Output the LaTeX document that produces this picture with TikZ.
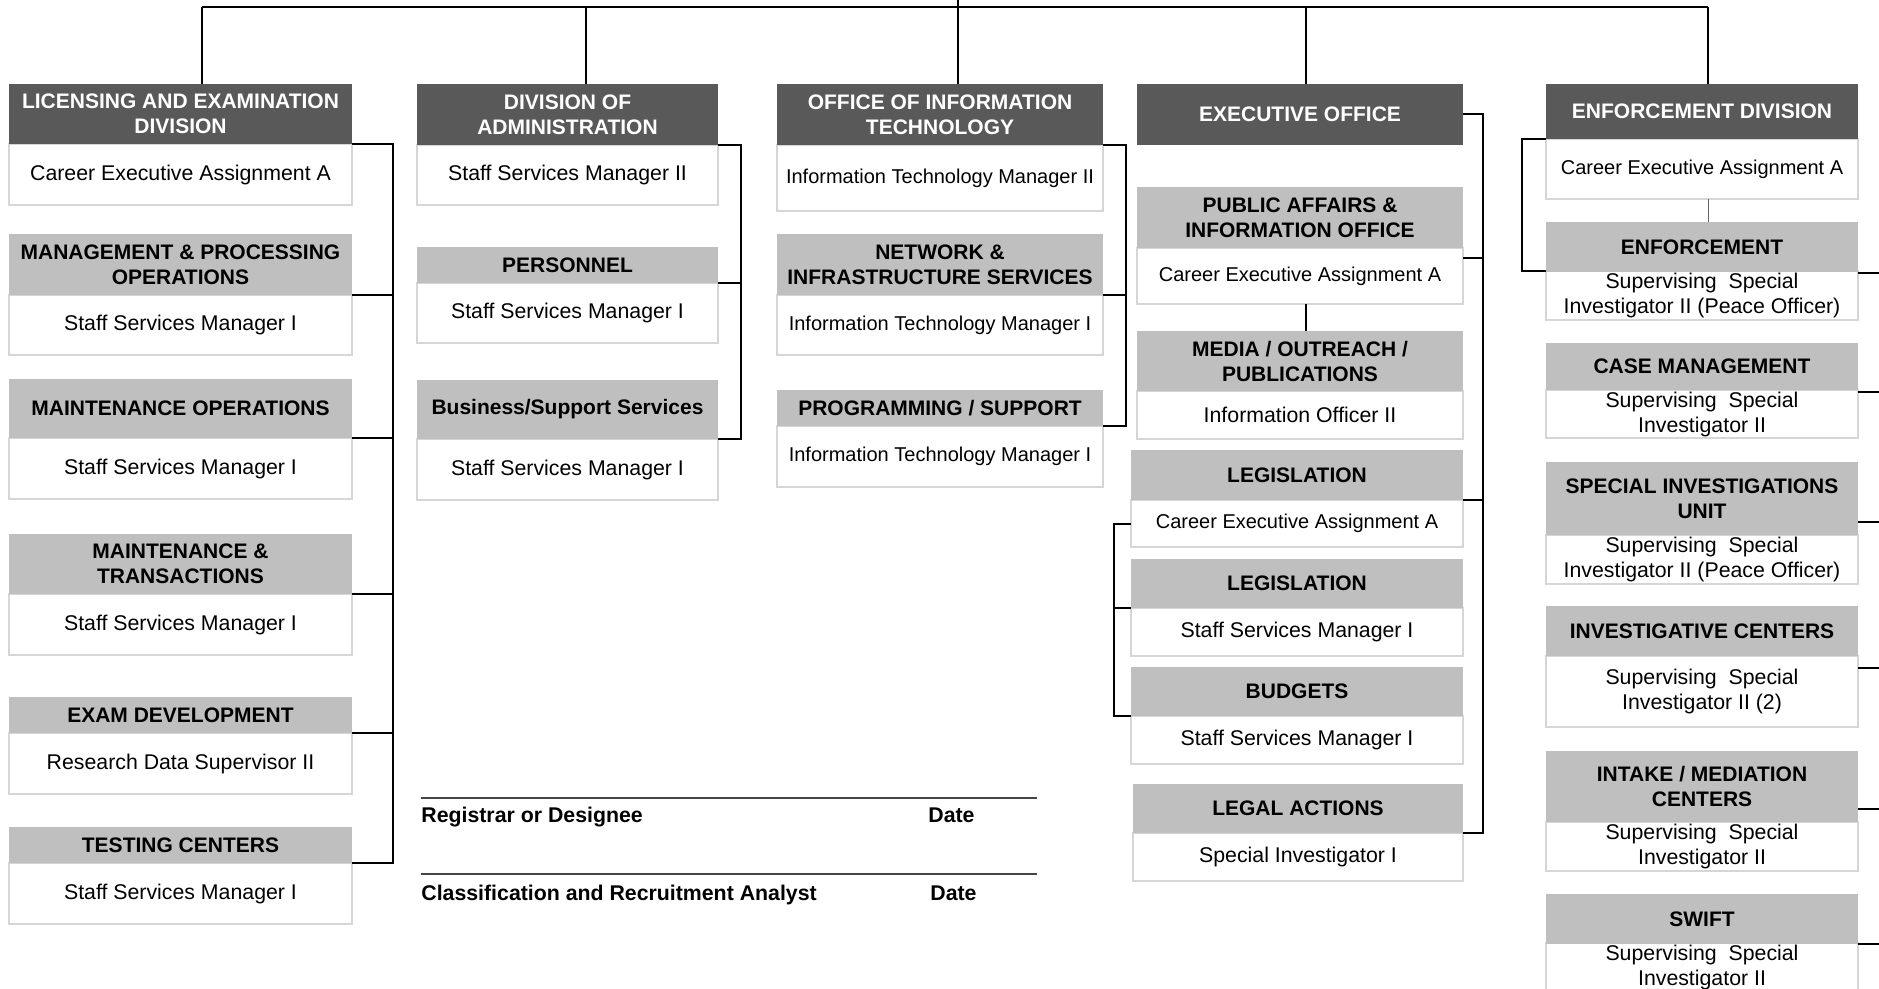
\documentclass[tikz,border=0pt]{standalone}
\usepackage{fontspec}
\setmainfont{Liberation Sans}
\usetikzlibrary{calc}
\definecolor{hdrdark}{HTML}{595959}
\definecolor{hdrlight}{HTML}{BFBFBF}
\definecolor{bodyline}{HTML}{D6D6D6}
\definecolor{sigcol}{HTML}{444444}
\newcommand{\hdrfont}{\fontsize{10.5}{12.5}\selectfont\bfseries}
\newcommand{\bodyfont}{\fontsize{10.65}{12.5}\selectfont}
\newcommand{\smallbody}{\fontsize{10}{12.5}\selectfont}
% #1 name, #2 x1, #3 x2, #4 y1, #5 y2, #6 y3, #7 header style, #8 header text, #9 body text
\newcommand{\orgunit}[9]{%
  \pgfmathsetmacro{\uw}{(#3-#2)*0.5}%
  \pgfmathsetmacro{\hh}{(#5-#4)*0.5}%
  \pgfmathsetmacro{\bh}{(#6-#5)*0.5}%
  \node[bodybox, minimum width=\uw pt, minimum height=\bh pt] (#1b) at ({(#2+#3)/2},{(#5+#6)/2}) {#9};
  \node[#7, minimum width=\uw pt, minimum height=\hh pt] (#1h) at ({(#2+#3)/2},{(#4+#5)/2}) {#8};
}
\begin{document}
\begin{tikzpicture}[x=0.5pt,y=-0.5pt,
  hdark/.style={fill=hdrdark, text=white, font=\hdrfont, draw=none, inner sep=1pt, outer sep=0pt, align=center},
  hlight/.style={fill=hdrlight, text=black, font=\hdrfont, draw=none, inner sep=1pt, outer sep=0pt, align=center},
  bodybox/.style={fill=white, draw=bodyline, line width=1pt, font=\bodyfont, inner sep=1pt, outer sep=0pt, align=center},
  conn/.style={black, line width=1pt, line join=miter},
  thinconn/.style={black!60, line width=0.5pt},
  sigline/.style={sigcol, line width=0.6pt},
  sigtext/.style={font=\bodyfont\bfseries, inner sep=0pt, anchor=base west}]
\useasboundingbox[fill=white] (0,0) rectangle (1879,989);

% Licensing and Examination Division
\orgunit{LA}{9}{352}{84}{144}{205}{hdark}{LICENSING AND EXAMINATION\\DIVISION}{Career Executive Assignment A}
\orgunit{LB}{9}{352}{234}{295}{355}{hlight}{MANAGEMENT \& PROCESSING\\OPERATIONS}{Staff Services Manager I}
\orgunit{LC}{9}{352}{379}{438}{499}{hlight}{MAINTENANCE OPERATIONS}{Staff Services Manager I}
\orgunit{LD}{9}{352}{534}{594}{655}{hlight}{MAINTENANCE \&\\TRANSACTIONS}{Staff Services Manager I}
\orgunit{LE}{9}{352}{697}{733}{794}{hlight}{EXAM DEVELOPMENT}{Research Data Supervisor II}
\orgunit{LF}{9}{352}{827}{863}{924}{hlight}{TESTING CENTERS}{Staff Services Manager I}

% Division of Administration
\orgunit{AA}{417}{718}{84}{145}{205}{hdark}{DIVISION OF\\ADMINISTRATION}{Staff Services Manager II}
\orgunit{AB}{417}{718}{247}{283}{343}{hlight}{PERSONNEL}{Staff Services Manager I}
\orgunit{AC}{417}{718}{380}{439}{500}{hlight}{Business/Support Services}{Staff Services Manager I}

% Office of Information Technology
\orgunit{TA}{777}{1103}{84}{145}{211}{hdark}{OFFICE OF INFORMATION\\TECHNOLOGY}{\smallbody Information Technology Manager II}
\orgunit{TB}{777}{1103}{234}{295}{355}{hlight}{NETWORK \&\\INFRASTRUCTURE SERVICES}{\smallbody Information Technology Manager I}
\orgunit{TC}{777}{1103}{390}{426}{487}{hlight}{PROGRAMMING / SUPPORT}{\smallbody Information Technology Manager I}

% Executive Office
\node[hdark, minimum width=163pt, minimum height=30.5pt] (XAh) at (1300,114.5) {EXECUTIVE OFFICE};
\orgunit{XB}{1137}{1463}{187}{248}{304}{hlight}{PUBLIC AFFAIRS \&\\INFORMATION OFFICE}{\smallbody Career Executive Assignment A}
\orgunit{XC}{1137}{1463}{331}{391}{439}{hlight}{MEDIA / OUTREACH /\\PUBLICATIONS}{Information Officer II}
\orgunit{XD}{1131}{1463}{450}{500}{547}{hlight}{LEGISLATION}{\smallbody Career Executive Assignment A}
\orgunit{XE}{1131}{1463}{559}{608}{656}{hlight}{LEGISLATION}{Staff Services Manager I}
\orgunit{XF}{1131}{1463}{667}{716}{764}{hlight}{BUDGETS}{Staff Services Manager I}
\orgunit{XG}{1133}{1463}{784}{833}{881}{hlight}{LEGAL ACTIONS}{Special Investigator I}

% Enforcement Division
\orgunit{EA}{1546}{1858}{84}{139}{199}{hdark}{ENFORCEMENT DIVISION}{\smallbody Career Executive Assignment A}
\orgunit{EB}{1546}{1858}{222}{272}{319}{hlight}{ENFORCEMENT}{Supervising~~Special\\Investigator II (Peace Officer)}
\orgunit{EC}{1546}{1858}{343}{390}{438}{hlight}{CASE MANAGEMENT}{Supervising~~Special\\Investigator II}
\orgunit{ED}{1546}{1858}{462}{535}{584}{hlight}{SPECIAL INVESTIGATIONS\\UNIT}{Supervising~~Special\\Investigator II (Peace Officer)}
\orgunit{EE}{1546}{1858}{606}{656}{727}{hlight}{INVESTIGATIVE CENTERS}{Supervising~~Special\\Investigator II (2)}
\orgunit{EF}{1546}{1858}{751}{822}{871}{hlight}{INTAKE / MEDIATION\\CENTERS}{Supervising~~Special\\Investigator II}
\orgunit{EG}{1546}{1858}{894}{944}{990}{hlight}{SWIFT}{Supervising~~Special\\Investigator II}

% top connectors
\coordinate (tp) at (958,0);
\coordinate (t1) at (202,7);
\coordinate (t2) at (586,7);
\coordinate (t3) at (958,7);
\coordinate (t4) at (1306,7);
\coordinate (t5) at (1708,7);
\draw[conn] (t1) -- (t5);
\draw[conn] (tp) -- (t3);
\draw[conn] (t1) -- (t1 |- LAh.north);
\draw[conn] (t2) -- (t2 |- AAh.north);
\draw[conn] (t3) -- (t3 |- TAh.north);
\draw[conn] (t4) -- (t4 |- XAh.north);
\draw[conn] (t5) -- (t5 |- EAh.north);

% licensing bracket
\coordinate (lx) at (393,0);
\draw[conn] (LAh.south east) -- (LAh.south east -| lx) -- (LFh.south east -| lx) -- (LFh.south east);
\draw[conn] (LBh.south east) -- (LBh.south east -| lx);
\draw[conn] (LCh.south east) -- (LCh.south east -| lx);
\draw[conn] (LDh.south east) -- (LDh.south east -| lx);
\draw[conn] (LEh.south east) -- (LEh.south east -| lx);

% administration bracket
\coordinate (ax) at (741,0);
\draw[conn] (AAh.south east) -- (AAh.south east -| ax) -- (ACh.south east -| ax) -- (ACh.south east);
\draw[conn] (ABh.south east) -- (ABh.south east -| ax);

% IT bracket
\coordinate (tx) at (1126,0);
\draw[conn] (TAh.south east) -- (TAh.south east -| tx) -- (TCh.south east -| tx) -- (TCh.south east);
\draw[conn] (TBh.south east) -- (TBh.south east -| tx);

% executive bracket
\coordinate (ex) at (1483,0);
\draw[conn] (XAh.east) -- (XAh.east -| ex) -- (XGh.south east -| ex) -- (XGh.south east);
\coordinate (xb1) at ($(XBb.north east)+(0,10)$);
\draw[conn] (xb1) -- (xb1 -| ex);
\draw[conn] (XDh.south east) -- (XDh.south east -| ex);
\draw[conn] (XBb.south -| t4) -- (XCh.north -| t4);

% legislation bracket
\coordinate (lg) at (1114,0);
\draw[conn] (XDb.west) -- (XDb.west -| lg) -- (XFh.south west -| lg) -- (XFh.south west);
\draw[conn] (XEh.south west) -- (XEh.south west -| lg);

% enforcement
\coordinate (el) at (1522,0);
\draw[conn] (EAh.south west) -- (EAh.south west -| el) -- (EBb.north west -| el) -- (EBb.north west);
\draw[thinconn] (EAb.south -| t5) -- (EBh.north -| t5);
\coordinate (er) at (1879,0);
\coordinate (eb1) at ($(EBb.north east)+(0,2)$);
\coordinate (ec1) at ($(ECb.north east)+(0,2)$);
\coordinate (ed1) at ($(EDh.south east)+(0,-13)$);
\coordinate (ee1) at ($(EEb.north east)+(0,12)$);
\coordinate (ef1) at ($(EFh.south east)+(0,-13)$);
\coordinate (eg1) at (EGh.south east);
\draw[conn] (eb1) -- (eb1 -| er);
\draw[conn] (ec1) -- (ec1 -| er);
\draw[conn] (ed1) -- (ed1 -| er);
\draw[conn] (ee1) -- (ee1 -| er);
\draw[conn] (ef1) -- (ef1 -| er);
\draw[conn] (eg1) -- (eg1 -| er);

% signature block
\coordinate (s1a) at (421,798);
\coordinate (s1b) at (1037,798);
\coordinate (s2a) at (421,874);
\coordinate (s2b) at (1037,874);
\draw[sigline] (s1a) -- (s1b);
\draw[sigline] (s2a) -- (s2b);
\node[sigtext] (reg) at (421,822.5) {Registrar or Designee};
\node[sigtext] (regd) at (928,822.5) {Date};
\node[sigtext] (cra) at (421,900) {Classification and Recruitment Analyst};
\node[sigtext] (crad) at (930,900) {Date};
\end{tikzpicture}
\end{document}
